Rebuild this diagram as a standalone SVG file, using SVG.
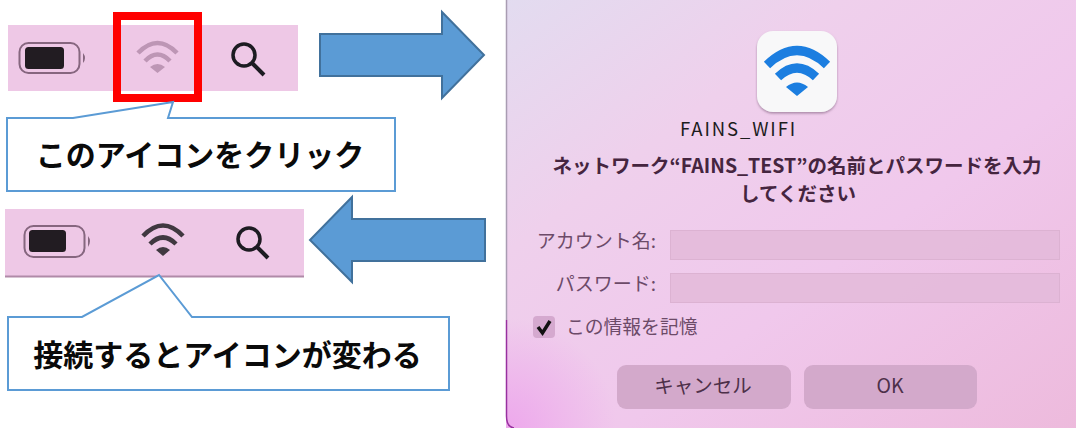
<svg xmlns="http://www.w3.org/2000/svg" width="1076" height="428" viewBox="0 0 1076 428">
<style>
text{font-family:"Noto Sans CJK JP","Noto Sans",sans-serif}
.bar{fill:#eec8e6}
.callout{fill:#fff;stroke:#5b9bd5;stroke-width:2}
.arrow{fill:#5b9bd5;stroke:#41719c;stroke-width:2}
.co{font-size:30px;font-weight:700;fill:#0a0a0a;text-anchor:middle}
.lab{font-size:19px;fill:#6c4a68;text-anchor:end}
.title{font-size:19.500px;font-weight:700;fill:#45253f;text-anchor:middle}
.field{fill:#e3bada;fill-opacity:.9;stroke:#dcb2d2;stroke-width:1}
.btn{fill:#d3a9cb}
.btxt{font-size:19.500px;fill:#4d3049;text-anchor:middle}
.arc{fill:none;stroke-linecap:butt}
</style>
<defs>
<linearGradient id="dlg" x1="0" y1="0" x2="1" y2="1">
<stop offset="0" stop-color="#e2dcf0"/>
<stop offset=".3" stop-color="#efd0ec"/>
<stop offset=".6" stop-color="#f0c8ec"/>
<stop offset="1" stop-color="#edbadc"/>
</linearGradient>
<radialGradient id="corner" gradientUnits="userSpaceOnUse" cx="506" cy="428" r="110">
<stop offset="0" stop-color="#eda4ec" stop-opacity=".9"/>
<stop offset="1" stop-color="#eda4ec" stop-opacity="0"/>
</radialGradient>
<filter id="soft" x="-20%" y="-20%" width="140%" height="140%"><feGaussianBlur stdDeviation=".5"/></filter>
<filter id="shadow" x="-20%" y="-20%" width="140%" height="140%"><feDropShadow dx="0" dy="1.5" stdDeviation="1.2" flood-color="#7a5a78" flood-opacity=".6"/></filter>
</defs>

<g id="dialog">
<rect x="506" y="-10" width="580" height="438" fill="url(#dlg)"/>
<rect x="506" y="310" width="120" height="118" fill="url(#corner)"/>
<path d="M506.500 0V320" stroke="#a99cb2" stroke-width="1.500" fill="none"/>
<path d="M506.500 320V416Q506.500 427 514 428" stroke="#98309f" stroke-width="1.500" fill="none"/>
</g>

<g id="app-icon">
<rect x="757" y="31" width="80" height="81" rx="16" fill="#f8f8f9" filter="url(#shadow)"/>
<g filter="url(#soft)">
<path class="arc" d="M767 65Q797 36 827 65" stroke="#1a7ee0" stroke-width="9"/>
<path class="arc" d="M778 77Q797 59 816 77" stroke="#1a7ee0" stroke-width="9"/>
<path d="M786 87Q797 78 808 87L797 96Z" fill="#1a7ee0"/>
</g>
</g>
<text id="app-name" x="738.500" y="136" font-size="18.500" letter-spacing="1.900" fill="#1c1c1c" text-anchor="middle">FAINS_WIFI</text>

<g id="dialog-title">
<text class="title" x="797" y="173">ネットワーク“FAINS_TEST”の名前とパスワードを入力</text>
<text class="title" x="798" y="201">してください</text>
</g>

<g id="account-field">
<text class="lab" x="656" y="248">アカウント名:</text>
<rect class="field" x="670.500" y="230.500" width="389" height="29"/>
</g>
<g id="password-field">
<text class="lab" x="656" y="291">パスワード:</text>
<rect class="field" x="670.500" y="273.500" width="389" height="29"/>
</g>
<g id="remember">
<rect x="533" y="316" width="22" height="22" rx="4" fill="#d5a9cf"/>
<path d="M538 327L542.500 333L550 321" fill="none" stroke="#111" stroke-width="3.500"/>
<text x="566" y="334" font-size="18.800" fill="#6c4a68">この情報を記憶</text>
</g>
<g id="cancel-button">
<rect class="btn" x="617" y="365" width="174" height="44" rx="9"/>
<text class="btxt" x="703" y="393">キャンセル</text>
</g>
<g id="ok-button">
<rect class="btn" x="804" y="365" width="173" height="44" rx="9"/>
<text class="btxt" x="890" y="393">OK</text>
</g>

<g id="menubar-before">
<rect class="bar" x="8" y="25" width="290" height="66"/>
<g filter="url(#soft)">
<rect x="19.500" y="43" width="60" height="30" rx="9" fill="none" stroke="#86667f" stroke-width="2"/>
<rect x="25" y="47" width="39" height="22" rx="3.500" fill="#241c20"/>
<path d="M83 53Q87 58 83 63Z" fill="#86667f"/>
<path class="arc" d="M138 53Q157.500 33 177 53" stroke="#bd96b5" stroke-width="4.500"/>
<path class="arc" d="M145 61Q157.500 48 170 61" stroke="#bd96b5" stroke-width="4.500"/>
<path d="M150 67Q157.500 61 165 67L157.500 73Z" fill="#bd96b5"/>
<circle cx="244" cy="55" r="11" fill="none" stroke="#1d1a20" stroke-width="3.500"/>
<path d="M252 63L264 75" stroke="#1d1a20" stroke-width="4"/>
</g>
</g>
<rect id="highlight" x="117" y="16" width="81" height="82" fill="none" stroke="#ff0000" stroke-width="8"/>

<g id="menubar-after">
<rect class="bar" x="5" y="209" width="299" height="67"/>
<rect x="5" y="275.500" width="299" height="2" fill="#b08aa8"/>
<g filter="url(#soft)">
<rect x="24.500" y="226" width="60" height="31" rx="9" fill="none" stroke="#86667f" stroke-width="2"/>
<rect x="29" y="230" width="37" height="22" rx="3.500" fill="#241c20"/>
<path d="M88 236Q92 241 88 247Z" fill="#86667f"/>
<path class="arc" d="M143 236Q163 215 183 236" stroke="#403840" stroke-width="4.500"/>
<path class="arc" d="M150 244Q163 231 176 244" stroke="#403840" stroke-width="4.500"/>
<path d="M156 250Q163 244 170 250L163 256Z" fill="#403840"/>
<circle cx="249" cy="239" r="11" fill="none" stroke="#1d1a20" stroke-width="3.500"/>
<path d="M257 247L268 258" stroke="#1d1a20" stroke-width="4"/>
</g>
</g>

<g id="connectors">
<path id="arrow-right" class="arrow" d="M320 34H442V12L484 55L442 98V76H320Z"/>
<path id="arrow-left" class="arrow" d="M485 219H352V197L310 240L352 282V261H485Z"/>
</g>

<g id="callout-click">
<path class="callout" d="M7 118H73L173 102L168 118H395V191H7Z"/>
<text class="co" x="200" y="166">このアイコンをクリック</text>
</g>
<g id="callout-changed">
<path class="callout" d="M8 317H82L159 275L192 317H449V390H8Z"/>
<text class="co" x="227.500" y="366">接続するとアイコンが変わる</text>
</g>
</svg>
